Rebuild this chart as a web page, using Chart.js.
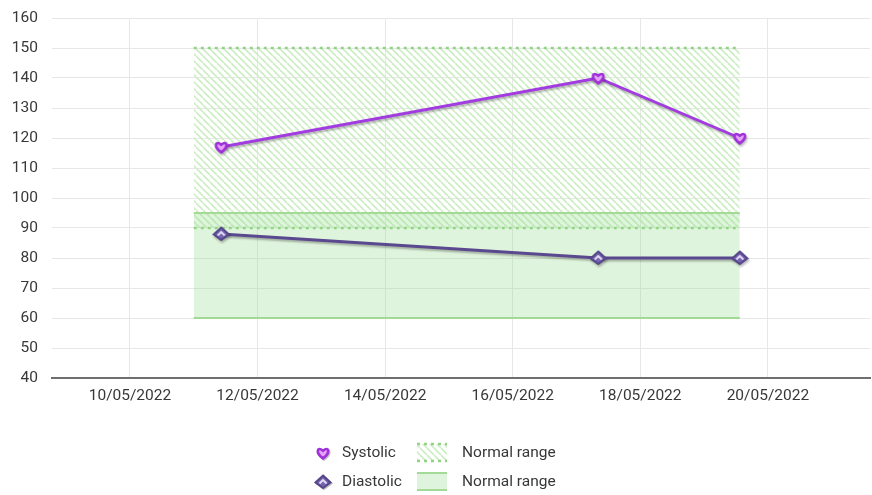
<!DOCTYPE html>
<html>
<head>
<meta charset="utf-8">
<script src="https://cdn.jsdelivr.net/npm/chart.js@4.4.1/dist/chart.umd.min.js"></script>
<style>
  html, body { margin: 0; padding: 0; background: #ffffff; }
  #wrap { width: 872px; height: 495px; }
</style>
</head>
<body>
<div id="wrap"><canvas id="bp" width="872" height="495"></canvas></div>
<script>
// Blood pressure readings
const measureTimes = ['2022-05-11 10:20', '2022-05-17 08:10', '2022-05-19 13:25'];
const systolic = [117, 140, 120];
const diastolic = [88, 80, 80];

// Reference ranges
const systolicRange = [90, 150];
const diastolicRange = [60, 95];
const rangeStart = '2022-05-11 00:00';

// Axis
const axisStart = '2022-05-08 18:40';
const axisEnd = '2022-05-21 14:25';
const tickDates = ['2022-05-10', '2022-05-12', '2022-05-14', '2022-05-16', '2022-05-18', '2022-05-20'];
const tickLabels = ['10/05/2022', '12/05/2022', '14/05/2022', '16/05/2022', '18/05/2022', '20/05/2022'];
const yTicks = { min: 40, max: 160, step: 10 };

const seriesNames = ['Systolic', 'Diastolic', 'Normal range', 'Normal range'];

const FONT = 'Roboto, "Noto Sans", sans-serif';
const FONT_SIZE = 15.5;
const TEXT = '#383838';
const SYS_LINE = '#a23ce0';
const DIA_LINE = '#5a498e';
const RANGE_LINE = '#a3da96';
const RANGE_DOT = '#92d385';
const RANGE_FILL = 'rgba(150, 220, 138, 0.30)';

function toDays(s) {
  const [d, t = '00:00'] = s.split(' ');
  const [Y, M, D] = d.split('-').map(Number);
  const [h, m] = t.split(':').map(Number);
  return Date.UTC(Y, M - 1, D, h, m) / 86400000;
}

const xs = measureTimes.map(toDays);
const bandX0 = toDays(rangeStart);
const bandX1 = xs[xs.length - 1];

// Diagonal hatch used for the systolic range
function makeHatch() {
  const s = 7;
  const c = document.createElement('canvas');
  c.width = s; c.height = s;
  const g = c.getContext('2d');
  g.strokeStyle = '#cdeec5';
  g.lineWidth = 1.7;
  for (const k of [-s, 0, s]) {
    g.beginPath();
    g.moveTo(k, 0);
    g.lineTo(k + s, s);
    g.stroke();
  }
  return c;
}
const hatchCanvas = makeHatch();
const hatch = document.getElementById('bp').getContext('2d').createPattern(hatchCanvas, 'repeat');

// Marker glyphs
function heartMarker() {
  const c = document.createElement('canvas');
  c.width = 20; c.height = 20;
  const g = c.getContext('2d');
  g.translate(10, 10);
  const r = 6.3;
  g.beginPath();
  g.moveTo(0, r * 0.85);
  g.bezierCurveTo(-r * 1.25, -r * 0.05, -r * 0.95, -r * 1.15, 0, -r * 0.35);
  g.bezierCurveTo(r * 0.95, -r * 1.15, r * 1.25, -r * 0.05, 0, r * 0.85);
  g.closePath();
  g.fillStyle = '#e6a3f6';
  g.fill();
  g.lineWidth = 2.6;
  g.strokeStyle = '#9f30da';
  g.stroke();
  return c;
}
function chevronMarker() {
  const c = document.createElement('canvas');
  c.width = 20; c.height = 20;
  const g = c.getContext('2d');
  g.translate(10, 10);
  g.beginPath();
  g.moveTo(0, -6.5);
  g.lineTo(7.5, 0.5);
  g.lineTo(0, 6);
  g.lineTo(-7.5, 0.5);
  g.closePath();
  g.fillStyle = '#7665ad';
  g.fill();
  g.lineWidth = 2;
  g.strokeStyle = '#55458a';
  g.stroke();
  g.beginPath();
  g.moveTo(-3.5, 1.5);
  g.lineTo(0, -2);
  g.lineTo(3.5, 1.5);
  g.lineWidth = 1.8;
  g.strokeStyle = '#e4ddf7';
  g.stroke();
  return c;
}
const sysMarker = heartMarker();
const diaMarker = chevronMarker();

const pts = (vals) => vals.map((v, i) => ({ x: xs[i], y: v }));
const flat = (v) => [{ x: bandX0, y: v }, { x: bandX1, y: v }];

// Soft drop shadow under the measurement lines
const shadowPlugin = {
  id: 'seriesShadow',
  beforeDatasetDraw(chart, args) {
    if (args.index > 1) return;
    const ctx = chart.ctx;
    ctx.save();
    ctx.shadowColor = 'rgba(0,0,0,0.28)';
    ctx.shadowBlur = 2;
    ctx.shadowOffsetX = 1;
    ctx.shadowOffsetY = 2;
  },
  afterDatasetDraw(chart, args) {
    if (args.index > 1) return;
    chart.ctx.restore();
  }
};

// Two-row legend under the plot
const legendPlugin = {
  id: 'bpLegend',
  afterDraw(chart) {
    const ctx = chart.ctx;
    const ds = chart.data.datasets;
    ctx.save();
    ctx.font = FONT_SIZE + 'px ' + FONT;
    ctx.fillStyle = TEXT;
    ctx.textBaseline = 'middle';
    ctx.textAlign = 'left';
    const rows = [453, 482];
    ctx.save();
    ctx.shadowColor = 'rgba(0,0,0,0.25)';
    ctx.shadowBlur = 1.5;
    ctx.shadowOffsetX = 1;
    ctx.shadowOffsetY = 1;
    ctx.drawImage(sysMarker, 323 - 10, rows[0] - 10);
    ctx.drawImage(diaMarker, 323 - 10, rows[1] - 10);
    ctx.restore();
    ctx.fillText(ds[0].label, 342, rows[0]);
    ctx.fillText(ds[1].label, 342, rows[1]);
    // hatched swatch
    const sx = 417, sw = 30;
    let top = rows[0] - 9, bot = rows[0] + 8;
    ctx.fillStyle = hatch;
    ctx.fillRect(sx, top, sw, bot - top);
    ctx.strokeStyle = RANGE_DOT;
    ctx.lineWidth = 2.5;
    ctx.setLineDash([3, 4]);
    ctx.beginPath();
    ctx.moveTo(sx, top); ctx.lineTo(sx + sw, top);
    ctx.moveTo(sx, bot); ctx.lineTo(sx + sw, bot);
    ctx.stroke();
    ctx.setLineDash([]);
    // solid swatch
    top = rows[1] - 9; bot = rows[1] + 8;
    ctx.fillStyle = RANGE_FILL;
    ctx.fillRect(sx, top, sw, bot - top);
    ctx.strokeStyle = RANGE_LINE;
    ctx.lineWidth = 2;
    ctx.beginPath();
    ctx.moveTo(sx, top); ctx.lineTo(sx + sw, top);
    ctx.moveTo(sx, bot); ctx.lineTo(sx + sw, bot);
    ctx.stroke();
    ctx.fillStyle = TEXT;
    ctx.fillText(ds[2].label, 462, rows[0]);
    ctx.fillText(ds[4].label, 462, rows[1]);
    ctx.restore();
  }
};

new Chart(document.getElementById('bp'), {
  type: 'line',
  data: {
    datasets: [
      {
        label: seriesNames[0], data: pts(systolic), order: 0,
        borderColor: SYS_LINE, borderWidth: 2.8, fill: false,
        pointStyle: sysMarker, pointRadius: 7, tension: 0
      },
      {
        label: seriesNames[1], data: pts(diastolic), order: 0,
        borderColor: DIA_LINE, borderWidth: 2.8, fill: false,
        pointStyle: diaMarker, pointRadius: 7, tension: 0
      },
      {
        label: seriesNames[2], data: flat(systolicRange[1]), order: 3,
        borderColor: RANGE_DOT, borderWidth: 2.5, borderDash: [3, 4],
        backgroundColor: hatch, fill: '+1', pointRadius: 0
      },
      {
        label: seriesNames[2], data: flat(systolicRange[0]), order: 3,
        borderColor: RANGE_DOT, borderWidth: 2.5, borderDash: [3, 4],
        fill: false, pointRadius: 0
      },
      {
        label: seriesNames[3], data: flat(diastolicRange[1]), order: 2,
        borderColor: RANGE_LINE, borderWidth: 2,
        backgroundColor: RANGE_FILL, fill: '+1', pointRadius: 0
      },
      {
        label: seriesNames[3], data: flat(diastolicRange[0]), order: 2,
        borderColor: RANGE_LINE, borderWidth: 2,
        fill: false, pointRadius: 0
      }
    ]
  },
  options: {
    responsive: false,
    devicePixelRatio: 1,
    animation: false,
    layout: { autoPadding: false, padding: { top: 18, right: 2, left: 0, bottom: 0 } },
    plugins: {
      legend: { display: false },
      tooltip: { enabled: false },
      filler: { propagate: false }
    },
    scales: {
      x: {
        type: 'linear',
        min: toDays(axisStart),
        max: toDays(axisEnd),
        afterFit: (s) => { s.height = 117; s.paddingLeft = 0; s.paddingRight = 0; },
        afterBuildTicks: (s) => { s.ticks = tickDates.map(d => ({ value: toDays(d) })); },
        grid: { color: '#e7e7e7', lineWidth: 1, drawTicks: false },
        border: { display: true, color: '#6f6f6f', width: 2 },
        ticks: {
          autoSkip: false, maxRotation: 0, padding: 9,
          color: TEXT, font: { family: FONT, size: FONT_SIZE },
          callback: (v, i) => tickLabels[i]
        }
      },
      y: {
        min: yTicks.min, max: yTicks.max,
        afterFit: (s) => { s.width = 52; s.paddingTop = 0; s.paddingBottom = 0; },
        grid: { color: '#e7e7e7', lineWidth: 1, drawTicks: false },
        border: { display: false },
        ticks: {
          stepSize: yTicks.step, padding: 14,
          color: TEXT, font: { family: FONT, size: FONT_SIZE }
        }
      }
    }
  },
  plugins: [shadowPlugin, legendPlugin]
});
</script>
</body>
</html>
